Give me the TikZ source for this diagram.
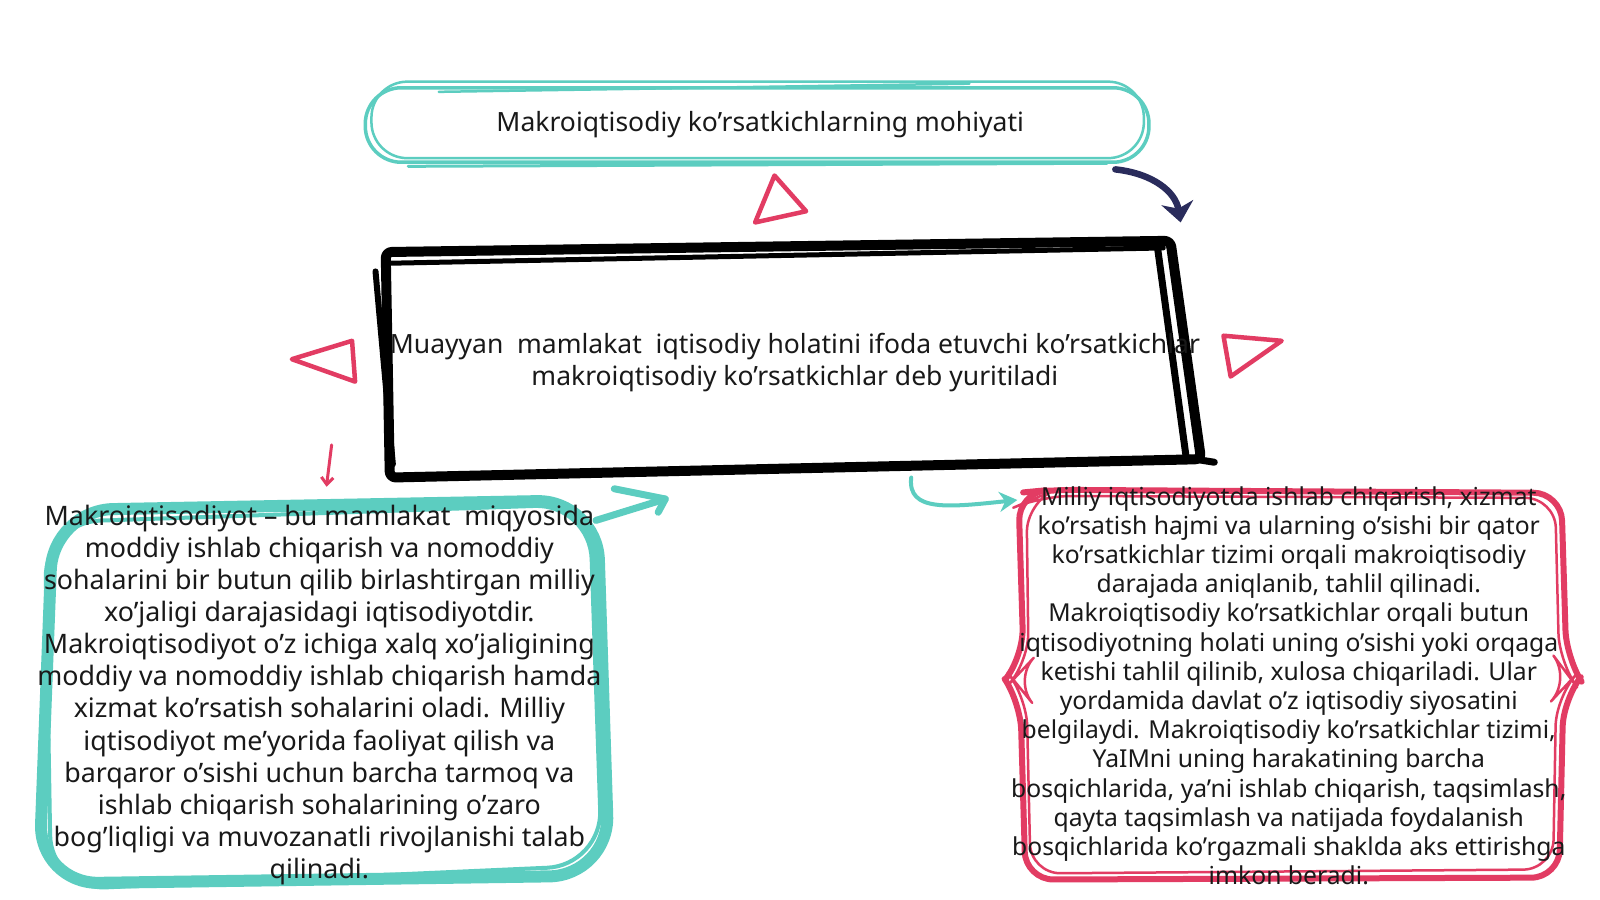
\documentclass[tikz,border=0pt]{standalone}
\usepackage{fontspec}
\setmainfont{Noto Sans}
\usetikzlibrary{arrows.meta}
\pgfdeclarelayer{background}
\pgfsetlayers{background,main}
\definecolor{teal1}{HTML}{5CCDC0}
\definecolor{red1}{HTML}{E23C63}
\definecolor{navy1}{HTML}{2A2C5C}
\tikzset{
  txt/.style={align=center, inner sep=0pt, text=black!90},
  tealline/.style={draw=teal1, line cap=round, line join=round},
  redline/.style={draw=red1, line cap=round, line join=round},
  tri/.style={draw=red1, line width=4.5pt, line join=round},
}
\begin{document}
\begin{tikzpicture}[x=1.0204pt,y=-1.0204pt]
\useasboundingbox (0,0) rectangle (1568,882);

% text nodes
\node[txt, font=\fontsize{26.5}{30}\selectfont] (title) at (745,122) {Makroiqtisodiy ko’rsatkichlarning mohiyati};
\node[txt, font=\fontsize{26.5}{31.6}\selectfont] (def) at (779,355) {Muayyan\ \ mamlakat\ \ iqtisodiy holatini ifoda etuvchi ko’rsatkichlar\\makroiqtisodiy ko’rsatkichlar deb yuritiladi};
\node[txt, font=\fontsize{26.8}{32.1}\selectfont] (left) at (313,681) {Makroiqtisodiyot – bu mamlakat\ \ miqyosida\\moddiy ishlab chiqarish va nomoddiy\\sohalarini bir butun qilib birlashtirgan milliy\\xo’jaligi darajasidagi iqtisodiyotdir.\\Makroiqtisodiyot o’z ichiga xalq xo’jaligining\\moddiy va nomoddiy ishlab chiqarish hamda\\xizmat ko’rsatish sohalarini oladi. Milliy\\iqtisodiyot me’yorida faoliyat qilish va\\barqaror o’sishi uchun barcha tarmoq va\\ishlab chiqarish sohalarining o’zaro\\bog’liqligi va muvozanatli rivojlanishi talab\\qilinadi.};
\node[txt, font=\fontsize{24.7}{29.2}\selectfont] (right) at (1263,672) {Milliy iqtisodiyotda ishlab chiqarish, xizmat\\ko’rsatish hajmi va ularning o’sishi bir qator\\ko’rsatkichlar tizimi orqali makroiqtisodiy\\darajada aniqlanib, tahlil qilinadi.\\Makroiqtisodiy ko’rsatkichlar orqali butun\\iqtisodiyotning holati uning o’sishi yoki orqaga\\ketishi tahlil qilinib, xulosa chiqariladi. Ular\\yordamida davlat o’z iqtisodiy siyosatini\\belgilaydi. Makroiqtisodiy ko’rsatkichlar tizimi,\\YaIMni uning harakatining barcha\\bosqichlarida, ya’ni ishlab chiqarish, taqsimlash,\\qayta taqsimlash va natijada foydalanish\\bosqichlarida ko’rgazmali shaklda aks ettirishga\\imkon beradi.};

\begin{pgfonlayer}{background}
\fill[white] (0,0) rectangle (1568,882);
% title box (hand drawn teal stadium)
\draw[tealline, line width=3.5pt, rounded corners=36pt] (358,86) rectangle (1126,159);
\draw[tealline, line width=2.5pt, rounded corners=36pt] (364,80) rectangle (1121,155);
\draw[tealline, line width=3pt] (400,163) -- (1085,160);
\draw[tealline, line width=2.5pt] (430,90) -- (950,82);

% black definition box
\draw[line width=10pt, line join=round, line cap=round, rounded corners=6pt] (378,247) -- (1147,236) -- (1177,450) -- (382,468) -- cycle;
\draw[line width=6pt, line cap=round] (368,266) -- (385,455);
\draw[line width=7pt, line cap=round] (1134,240) -- (1162,445);
\draw[line width=5pt, line cap=round] (380,258) -- (1140,243);
\draw[line width=7pt, line cap=round] (1165,449) -- (1190,453);

% left teal box
\draw[tealline, line width=12pt, rounded corners=60pt] (52,500) -- (585,490) -- (597,858) -- (38,866) -- cycle;
\draw[tealline, line width=4pt, rounded corners=55pt] (44,512) -- (578,494) -- (590,848) -- (50,872) -- cycle;

% right red brace box
\draw[redline, line width=6pt, rounded corners=28pt] (1030,480) -- (1530,483) -- (1535,645) [sharp corners]-- (1548,665) [rounded corners=28pt]-- (1532,685) -- (1528,860) -- (1005,862) -- (1000,688) [sharp corners]-- (985,666) [rounded corners=28pt]-- (1003,643) -- (998,483) -- cycle;
\draw[redline, line width=2.5pt, rounded corners=30pt] (1020,486) -- (1524,488) -- (1528,650) -- (1540,666) -- (1525,682) -- (1522,852) -- (1010,856) -- (1006,682) -- (993,666) -- (1008,650) -- (1006,492) -- cycle;

% red triangles
\draw[tri] (759,172) -- (790,207) -- (740,218) -- cycle;
\draw[tri] (286,352) -- (345,334) -- (348,374) -- cycle;
\draw[tri] (1199,329) -- (1256,334) -- (1206,369) -- cycle;
\end{pgfonlayer}

% connectors
\coordinate (navyS) at (1093,166);
\coordinate (navyE) at (1157,218);
\draw[navy1, line width=6.5pt, line cap=round, -{Stealth[length=20pt,width=32pt,inset=6pt]}] (navyS) .. controls (1130,170) and (1152,188) .. (navyE);

\coordinate (redS) at (325,436);
\coordinate (redE) at (320,477);
\draw[red1, line width=3pt, -{Straight Barb[length=7pt,width=12pt,line width=3pt]}, line cap=round] (redS) .. controls (322,455) .. (redE);

\coordinate (tealS) at (584,510);
\coordinate (tealE) at (652,489);
\draw[teal1, line width=7pt, line cap=round, line join=round] (tealS) -- (tealE);
\draw[teal1, line width=7pt, line cap=round, line join=round] (602,479) -- (tealE) -- (645,502);

\coordinate (teal2S) at (893,468);
\coordinate (teal2E) at (997,490);
\draw[teal1, line width=4pt, -{Stealth[length=18pt,width=20pt]}, line cap=round] (teal2S) .. controls (889,502) and (930,497) .. (teal2E);
\end{tikzpicture}
\end{document}
